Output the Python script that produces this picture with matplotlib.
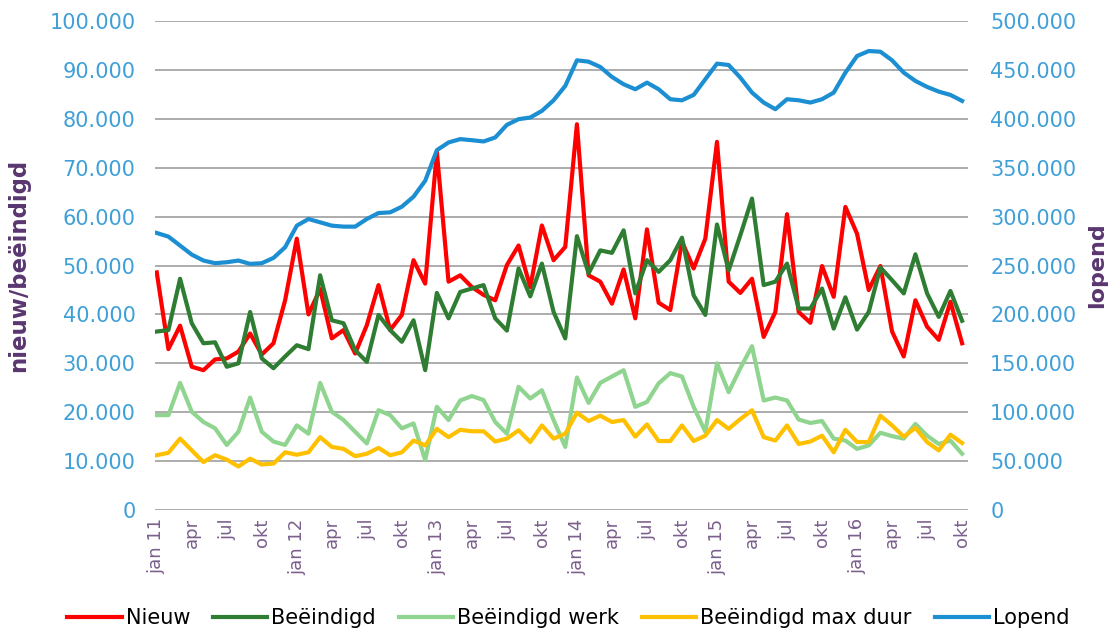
import matplotlib
matplotlib.use('agg')
import matplotlib.pyplot as plt
import numpy as np

######## data (x1000) ########
jaren = [11, 12, 13, 14, 15, 16]
kwartaal_maanden = {0: 'jan', 3: 'apr', 6: 'jul', 9: 'okt'}

nieuw = [48.6, 32.9, 37.7, 29.3, 28.6, 30.8, 31.0, 32.4, 36.1, 31.8, 34.1, 42.9,
         55.5, 40.0, 45.2, 35.1, 36.8, 32.0, 37.8, 46.0, 36.8, 39.9, 51.1, 46.3,
         73.2, 46.7, 48.0, 45.6, 44.0, 42.9, 50.1, 54.1, 45.6, 58.2, 51.1, 53.8,
         78.9, 48.0, 46.7, 42.2, 49.2, 39.2, 57.4, 42.4, 40.9, 54.9, 49.4, 55.5,
         75.3, 46.7, 44.4, 47.3, 35.4, 40.5, 60.5, 40.5, 38.3, 49.9, 43.6, 62.0,
         56.5, 45.0, 49.9, 36.5, 31.4, 42.9, 37.5, 34.8, 42.6, 34.1]

beeindigd = [36.5, 36.8, 47.3, 38.2, 34.1, 34.3, 29.3, 30.0, 40.5, 31.0, 29.0, 31.4,
             33.7, 32.9, 48.0, 38.8, 38.2, 32.7, 30.3, 39.9, 36.8, 34.4, 38.8, 28.6,
             44.4, 39.2, 44.6, 45.3, 46.0, 39.2, 36.7, 49.4, 43.7, 50.4, 40.5, 35.1,
             56.0, 48.4, 53.1, 52.6, 57.2, 44.3, 51.1, 48.7, 51.1, 55.7, 43.9, 39.9,
             58.4, 49.0, 56.2, 63.7, 46.0, 46.7, 50.4, 41.2, 41.2, 45.3, 37.1, 43.5,
             36.9, 40.5, 49.6, 47.0, 44.3, 52.3, 44.3, 39.5, 44.8, 38.7]

beeindigd_werk = [19.4, 19.4, 26.0, 20.1, 18.0, 16.7, 13.3, 16.0, 23.0, 16.0, 14.0, 13.3,
                  17.3, 15.6, 26.0, 20.1, 18.4, 16.0, 13.6, 20.4, 19.4, 16.7, 17.7, 10.2,
                  21.1, 18.4, 22.4, 23.3, 22.5, 18.0, 15.6, 25.2, 22.8, 24.5, 18.4, 12.9,
                  27.1, 21.9, 26.0, 27.3, 28.6, 21.1, 22.1, 25.9, 28.0, 27.3, 21.1, 16.0,
                  30.0, 24.1, 29.0, 33.5, 22.4, 23.0, 22.4, 18.5, 17.8, 18.2, 14.6, 14.2,
                  12.5, 13.2, 15.8, 15.1, 14.6, 17.6, 15.2, 13.5, 14.2, 11.5]

beeindigd_max = [11.2, 11.7, 14.6, 12.2, 9.8, 11.2, 10.3, 8.9, 10.5, 9.3, 9.5, 11.8,
                 11.3, 11.8, 14.9, 12.9, 12.5, 11.0, 11.5, 12.7, 11.2, 11.8, 14.2, 13.2,
                 16.6, 14.9, 16.4, 16.1, 16.1, 14.0, 14.6, 16.3, 13.9, 17.3, 14.6, 15.6,
                 19.9, 18.2, 19.3, 18.0, 18.4, 15.0, 17.5, 14.1, 14.1, 17.3, 14.1, 15.2,
                 18.4, 16.6, 18.6, 20.4, 14.9, 14.2, 17.3, 13.5, 14.0, 15.2, 11.8, 16.4,
                 13.9, 13.9, 19.3, 17.3, 15.0, 16.8, 13.9, 12.2, 15.4, 13.7]

lopend = [283.3, 279.6, 270.4, 261.2, 255.1, 252.4, 253.4, 255.1, 251.7, 252.4, 257.8, 268.7,
          290.8, 297.6, 294.2, 290.8, 289.8, 289.8, 297.6, 303.7, 304.4, 310.2, 320.4, 336.7,
          368.0, 375.9, 379.3, 378.2, 376.9, 381.0, 393.9, 399.7, 401.4, 408.2, 419.0, 433.7,
          459.9, 458.5, 453.1, 442.9, 435.4, 430.3, 437.1, 430.3, 420.1, 419.0, 424.5, 440.5,
          456.5, 455.1, 442.2, 426.9, 416.7, 409.9, 420.1, 419.0, 416.7, 420.1, 426.9, 447.3,
          464.3, 469.4, 468.7, 459.9, 447.3, 438.8, 432.7, 427.9, 424.5, 418.4]

######## style ########
blauw_tekst = '#3fa0d8'
paars = '#5a3670'
paars_tick = '#7b5f8c'
lw = 3.0

x = np.arange(len(nieuw))
ticks = x[::3]
ticklabels = []
for i in ticks:
    m = kwartaal_maanden[i % 12]
    if m == 'jan':
        ticklabels.append('jan ' + str(jaren[i // 12]))
    else:
        ticklabels.append(m)

fig = plt.figure(figsize=(11.19, 6.3), dpi=100)
ax = fig.add_axes([0.1385, 0.1905, 0.7265, 0.776])
ax2 = ax.twinx()

l1, = ax.plot(x, nieuw, color='#ff0000', lw=lw, label='Nieuw')
l2, = ax.plot(x, beeindigd, color='#2e7d32', lw=lw, label='Beëindigd')
l3, = ax.plot(x, beeindigd_werk, color='#8fd48f', lw=lw, label='Beëindigd werk')
l4, = ax.plot(x, beeindigd_max, color='#ffc000', lw=lw, label='Beëindigd max duur')
l5, = ax2.plot(x, lopend, color='#1c8fd3', lw=lw, label='Lopend')

ax.set_xlim(-0.15, 69.5)
ax.set_ylim(0, 100)
ax2.set_ylim(0, 500)
ax.set_yticks(np.arange(0, 101, 10))
ax2.set_yticks(np.arange(0, 501, 50))

def fmt(v):
    v = int(round(v * 1000))
    return '0' if v == 0 else '{:,}'.format(v).replace(',', '.')

ax.set_yticklabels([fmt(v) for v in np.arange(0, 101, 10)], color=blauw_tekst, fontsize=15)
ax2.set_yticklabels([fmt(v) for v in np.arange(0, 501, 50)], color=blauw_tekst, fontsize=15)
ax.set_xticks(ticks)
ax.set_xticklabels(ticklabels, rotation=90, color=paars_tick, fontsize=13)

ax.grid(axis='y', color='#a6a6a6', lw=1.3)
ax.set_axisbelow(True)
for a in (ax, ax2):
    for s in a.spines.values():
        s.set_visible(False)
    a.tick_params(length=0)
ax.tick_params(axis='y', pad=14)
ax.tick_params(axis='x', pad=6)
ax2.tick_params(axis='y', pad=16)

ax.set_ylabel('nieuw/beëindigd', color=paars, fontsize=16.5, fontweight='bold')
ax.yaxis.set_label_coords(-0.153, 0.5)
ax2.set_ylabel('lopend', color=paars, fontsize=16, fontweight='bold', labelpad=8)

fig.legend([l1, l2, l3, l4, l5], [l.get_label() for l in (l1, l2, l3, l4, l5)],
           loc='lower center', bbox_to_anchor=(0.508, -0.027), ncol=5, frameon=False,
           fontsize=15, handlelength=2.6, columnspacing=1.1, handletextpad=0.2)

fig.savefig('out.png', dpi=100)
